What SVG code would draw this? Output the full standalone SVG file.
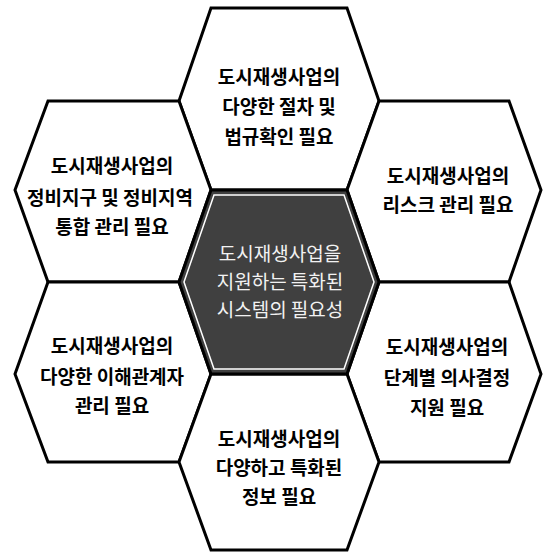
<svg xmlns="http://www.w3.org/2000/svg" width="544" height="553" viewBox="0 0 544 553">
<style>
.hex{fill:#fff;stroke:#000;stroke-width:3;stroke-linejoin:miter}
.core{fill:#404040;stroke:#000;stroke-width:3}
.inner{fill:none;stroke:#fff;stroke-width:1.5}
text{font-family:"Noto Sans CJK KR","Noto Sans",sans-serif;font-size:19px;text-anchor:middle;dominant-baseline:central}
.t{fill:#000;font-weight:bold}
.w{fill:#f2f2f2;font-weight:normal}
</style>
<rect width="544" height="553" fill="#fff"/>
<g id="node-top">
<polygon class="hex" points="179,101 211,8 347,8 379,101 347,190 211,190"/>
<text class="t" x="279" y="75">도시재생사업의</text>
<text class="t" x="279" y="105">다양한 절차 및</text>
<text class="t" x="279" y="135">법규확인 필요</text>
</g>
<g id="node-left-upper">
<polygon class="hex" points="15,190 48,101 179,101 211,190 179,282 48,282"/>
<text class="t" x="112" y="164">도시재생사업의</text>
<text class="t" x="110" y="196">정비지구 및 정비지역</text>
<text class="t" x="112" y="225">통합 관리 필요</text>
</g>
<g id="node-right-upper">
<polygon class="hex" points="347,190 379,101 509,101 541,190 509,282 379,282"/>
<text class="t" x="448" y="174">도시재생사업의</text>
<text class="t" x="448" y="203">리스크 관리 필요</text>
</g>
<g id="node-left-lower">
<polygon class="hex" points="15,374 48,282 179,282 211,374 179,462 48,462"/>
<text class="t" x="112" y="344">도시재생사업의</text>
<text class="t" x="112" y="375">다양한 이해관계자</text>
<text class="t" x="112" y="404">관리 필요</text>
</g>
<g id="node-right-lower">
<polygon class="hex" points="347,374 379,282 509,282 541,374 509,462 379,462"/>
<text class="t" x="447" y="345">도시재생사업의</text>
<text class="t" x="447" y="376">단계별 의사결정</text>
<text class="t" x="447" y="406">지원 필요</text>
</g>
<g id="node-bottom">
<polygon class="hex" points="179,462 211,374 347,374 379,462 347,550 211,550"/>
<text class="t" x="279" y="437">도시재생사업의</text>
<text class="t" x="279" y="466">다양하고 특화된</text>
<text class="t" x="279" y="495">정보 필요</text>
</g>
<g id="node-center">
<polygon class="core" points="179,282 211,190 347,190 379,282 347,374 211,374"/>
<polygon class="inner" points="184,282 214,195 344,195 374,282 344,369 214,369"/>
<text class="w" x="280" y="252">도시재생사업을</text>
<text class="w" x="280" y="280">지원하는 특화된</text>
<text class="w" x="280" y="308">시스템의 필요성</text>
</g>
<g id="connectors"></g>
</svg>
